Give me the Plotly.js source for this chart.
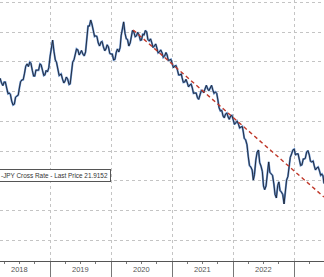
<!DOCTYPE html>
<html><head><meta charset="utf-8">
<script src="https://cdn.plot.ly/plotly-3.0.1.min.js"></script>
<style>html,body{margin:0;padding:0;background:#fff;}#chart{width:324px;height:277px;}</style>
</head><body><div id="chart"></div>
<script>
const dates = [
"2018-03-01","2018-03-08","2018-03-16","2018-03-24","2018-04-01","2018-04-08","2018-04-16","2018-04-24","2018-05-01","2018-05-08","2018-05-16","2018-05-24","2018-06-01","2018-06-08","2018-06-16","2018-06-24","2018-07-01","2018-07-08","2018-07-16","2018-07-24","2018-08-01","2018-08-08","2018-08-16","2018-08-24","2018-09-01","2018-09-08","2018-09-16","2018-09-24","2018-10-01","2018-10-08","2018-10-16","2018-10-24","2018-11-01","2018-11-08","2018-11-16","2018-11-24","2018-12-01","2018-12-08","2018-12-16","2018-12-24",
"2019-01-01","2019-01-08","2019-01-16","2019-01-24","2019-02-01","2019-02-08","2019-02-16","2019-02-24","2019-03-01","2019-03-08","2019-03-16","2019-03-24","2019-04-01","2019-04-08","2019-04-16","2019-04-24","2019-05-01","2019-05-08","2019-05-16","2019-05-24","2019-06-01","2019-06-08","2019-06-16","2019-06-24","2019-07-01","2019-07-08","2019-07-16","2019-07-24","2019-08-01","2019-08-08","2019-08-16","2019-08-24","2019-09-01","2019-09-08","2019-09-16","2019-09-24","2019-10-01","2019-10-08","2019-10-16","2019-10-24","2019-11-01","2019-11-08","2019-11-16","2019-11-24","2019-12-01","2019-12-08","2019-12-16","2019-12-24",
"2020-01-01","2020-01-08","2020-01-16","2020-01-24","2020-02-01","2020-02-08","2020-02-16","2020-02-24","2020-03-01","2020-03-08","2020-03-16","2020-03-24","2020-04-01","2020-04-08","2020-04-16","2020-04-24","2020-05-01","2020-05-08","2020-05-16","2020-05-24","2020-06-01","2020-06-08","2020-06-16","2020-06-24","2020-07-01","2020-07-08","2020-07-16","2020-07-24","2020-08-01","2020-08-08","2020-08-16","2020-08-24","2020-09-01","2020-09-08","2020-09-16","2020-09-24","2020-10-01","2020-10-08","2020-10-16","2020-10-24","2020-11-01","2020-11-08","2020-11-16","2020-11-24","2020-12-01","2020-12-08","2020-12-16","2020-12-24",
"2021-01-01","2021-01-08","2021-01-16","2021-01-24","2021-02-01","2021-02-08","2021-02-16","2021-02-24","2021-03-01","2021-03-08","2021-03-16","2021-03-24","2021-04-01","2021-04-08","2021-04-16","2021-04-24","2021-05-01","2021-05-08","2021-05-16","2021-05-24","2021-06-01","2021-06-08","2021-06-16","2021-06-24","2021-07-01","2021-07-08","2021-07-16","2021-07-24","2021-08-01","2021-08-08","2021-08-16","2021-08-24","2021-09-01","2021-09-08","2021-09-16","2021-09-24","2021-10-01","2021-10-08","2021-10-16","2021-10-24","2021-11-01","2021-11-08","2021-11-16","2021-11-24","2021-12-01","2021-12-08","2021-12-16","2021-12-24",
"2022-01-01","2022-01-08","2022-01-16","2022-01-24","2022-02-01","2022-02-08","2022-02-16","2022-02-24","2022-03-01","2022-03-08","2022-03-16","2022-03-24","2022-04-01","2022-04-08","2022-04-16","2022-04-24","2022-05-01","2022-05-08","2022-05-16","2022-05-24","2022-06-01","2022-06-08","2022-06-16","2022-06-24","2022-07-01","2022-07-08","2022-07-16","2022-07-24","2022-08-01","2022-08-08","2022-08-16","2022-08-24","2022-09-01","2022-09-08","2022-09-16","2022-09-24","2022-10-01","2022-10-08","2022-10-16","2022-10-24","2022-11-01","2022-11-08","2022-11-16","2022-11-24","2022-12-01","2022-12-08","2022-12-16","2022-12-24",
"2023-01-01","2023-01-08","2023-01-16","2023-01-24","2023-02-01","2023-02-08","2023-02-16","2023-02-24","2023-03-01","2023-03-08","2023-03-16","2023-03-24","2023-04-01","2023-04-08","2023-04-16","2023-04-24","2023-05-01","2023-05-08","2023-05-16","2023-05-24","2023-06-01","2023-06-08","2023-06-16","2023-06-22","2023-06-28"
];
const lastPrice = [
25.39,25.44,25.29,25.20,25.32,25.32,25.12,24.93,24.95,24.91,24.68,24.55,24.58,24.81,24.85,24.88,25.12,25.33,25.39,25.40,25.62,25.85,25.93,25.84,25.99,25.95,25.72,25.52,25.52,25.72,25.72,25.72,25.93,25.90,25.72,25.54,25.56,25.71,25.66,25.80,
26.19,26.41,26.73,26.35,26.06,25.99,25.72,25.54,25.56,25.59,25.42,25.29,25.36,25.49,25.42,25.24,25.26,25.67,25.99,26.07,26.26,26.43,26.40,26.23,26.30,26.38,26.26,26.20,26.33,26.81,27.20,27.20,27.40,27.27,27.03,26.85,26.87,26.85,26.63,26.53,26.66,26.68,26.50,26.37,26.43,26.57,26.50,26.28,
26.26,26.26,26.06,26.08,26.33,26.43,26.33,26.48,26.87,27.16,27.34,26.96,26.77,26.75,26.53,26.63,26.93,27.05,27.00,26.84,26.87,26.99,26.90,26.72,26.73,26.92,26.90,27.05,27.00,26.75,26.70,26.77,26.63,26.48,26.53,26.60,26.46,26.30,26.33,26.40,26.30,26.15,26.19,26.31,26.23,26.05,26.06,26.08,
25.93,25.80,25.86,25.87,25.72,25.56,25.56,25.59,25.46,25.31,25.32,25.41,25.29,25.16,25.22,25.25,25.12,24.94,24.95,24.95,24.79,24.74,24.89,25.04,25.02,24.96,25.09,25.21,25.09,25.03,25.12,25.21,25.05,24.94,24.99,24.94,24.72,24.46,24.35,24.37,24.18,24.12,24.25,24.28,24.15,24.07,24.18,24.20,
24.05,23.90,23.95,24.01,23.91,23.78,23.81,23.83,23.68,23.43,23.38,23.22,22.81,22.52,22.47,22.37,22.03,22.22,22.70,22.97,23.04,22.62,22.50,22.32,21.83,21.71,21.83,22.39,22.64,22.29,22.23,22.19,21.90,21.55,21.43,21.85,21.97,21.68,21.63,21.55,21.23,21.73,22.03,22.15,22.47,22.79,22.91,23.04,
23.07,22.87,22.91,22.91,22.70,22.52,22.54,22.74,22.74,22.76,22.97,23.02,22.87,22.66,22.64,22.67,22.50,22.37,22.44,22.47,22.34,22.19,22.23,22.17,21.9152
];
const trendDates = ["2020-05-12","2023-06-28"];
const trendValues = [27.07,21.46];
const yearTickVals = ["2018-01-01","2019-01-01","2020-01-01","2021-01-01","2022-01-01","2023-01-01"];
const yearLabelDates = ["2018-07-02","2019-07-02","2020-07-02","2021-07-02","2022-07-02","2023-07-02"];
const yearLabels = ["2018","2019","2020","2021","2022","2023"];
const legendText = "-JPY Cross Rate - Last Price 21.9152";

const traces = [
  {x: dates, y: lastPrice, type: 'scatter', mode: 'lines', line: {color: '#6a94cf', width: 2.0}, hoverinfo: 'skip'},
  {x: dates, y: lastPrice, type: 'scatter', mode: 'lines', line: {color: '#1b2130', width: 0.9}},
  {x: trendDates, y: trendValues, type: 'scatter', mode: 'lines', line: {color: '#c0392b', width: 1.4, dash: '4px,3px'}}
];

const annotations = yearLabels.map((t, i) => ({
  x: yearLabelDates[i], xref: 'x', y: -0.034, yref: 'paper', yanchor: 'middle', xanchor: 'center',
  text: t, showarrow: false, font: {family: 'Liberation Sans, Arial, sans-serif', size: 7.5, color: '#555'}
}));
annotations.push({
  x: 111/324, xref: 'paper', xanchor: 'right', y: (261-175)/261, yref: 'paper', yanchor: 'middle',
  text: legendText, showarrow: false, bgcolor: '#fff', bordercolor: '#555', borderwidth: 1, borderpad: 2,
  font: {family: 'Liberation Sans, Arial, sans-serif', size: 6.4, color: '#333'}
});

const layout = {
  width: 324, height: 277,
  margin: {l: 0, r: 0, t: 0, b: 16},
  paper_bgcolor: '#fff', plot_bgcolor: '#fff',
  showlegend: false,
  xaxis: {
    type: 'date', range: ['2018-03-07', '2023-06-28'],
    tickmode: 'array', tickvals: yearTickVals, ticktext: ['', '', '', '', '', ''],
    showgrid: true, gridcolor: '#c4c4c4', griddash: 'dot', gridwidth: 1,
    ticks: 'outside', ticklen: 16, tickcolor: '#777', tickwidth: 1,
    showline: true, linecolor: '#555', linewidth: 1, zeroline: false,
    minor: {dtick: 'M3', tick0: '2018-01-01', ticks: 'outside', ticklen: 2, tickcolor: '#777', showgrid: false}
  },
  yaxis: {
    range: [19.315, 28.074], dtick: 1, tick0: 0,
    showgrid: true, gridcolor: '#c4c4c4', griddash: 'dot', gridwidth: 1,
    showticklabels: false, ticks: '', zeroline: false, showline: false
  },
  annotations: annotations
};

Plotly.newPlot('chart', traces, layout, {staticPlot: true, displayModeBar: false});
</script></body></html>
